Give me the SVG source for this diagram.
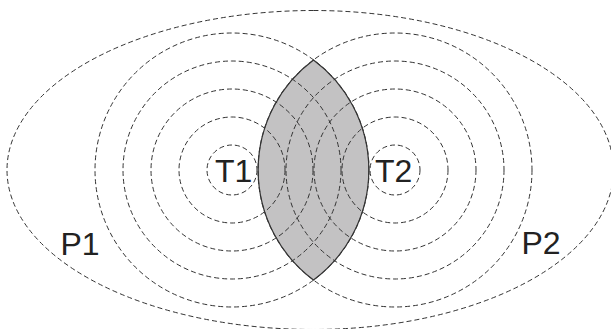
<svg xmlns="http://www.w3.org/2000/svg" width="611" height="329" viewBox="0 0 611 329">
<style>
.d{fill:none;stroke:#333;stroke-width:1;stroke-dasharray:5 3}
.lens{fill:#c3c2c3;stroke:#333;stroke-width:1.2}
.t{font-family:"Liberation Sans",Arial,sans-serif;font-size:32px;fill:#222}
</style>
<rect width="611" height="329" fill="#fff"/>
<g id="lens">
<path class="lens" d="M313.5,60 A137,137 0 0 0 313.5,280 A137,137 0 0 0 313.5,60 Z"/>
</g>
<g id="P1">
<path class="d" d="M313.5,10.5 A306.5,159.5 0 0 0 313.5,329.5"/>
<text class="t" x="60.5" y="255">P1</text>
</g>
<g id="P2">
<path class="d" d="M313.5,10.5 A300,159.5 0 0 1 313.5,329.5"/>
<text class="t" x="521.5" y="254">P2</text>
</g>
<g id="T1">
<circle class="d" cx="232" cy="170" r="25"/>
<circle class="d" cx="232" cy="170" r="53"/>
<circle class="d" cx="232" cy="170" r="81"/>
<circle class="d" cx="232" cy="170" r="109"/>
<circle class="d" cx="232" cy="170" r="137"/>
<text class="t" x="215" y="182">T1</text>
</g>
<g id="T2">
<circle class="d" cx="395" cy="170" r="25"/>
<circle class="d" cx="395" cy="170" r="53"/>
<circle class="d" cx="395" cy="170" r="81"/>
<circle class="d" cx="395" cy="170" r="109"/>
<circle class="d" cx="395" cy="170" r="137"/>
<text class="t" x="375" y="182">T2</text>
</g>
</svg>
